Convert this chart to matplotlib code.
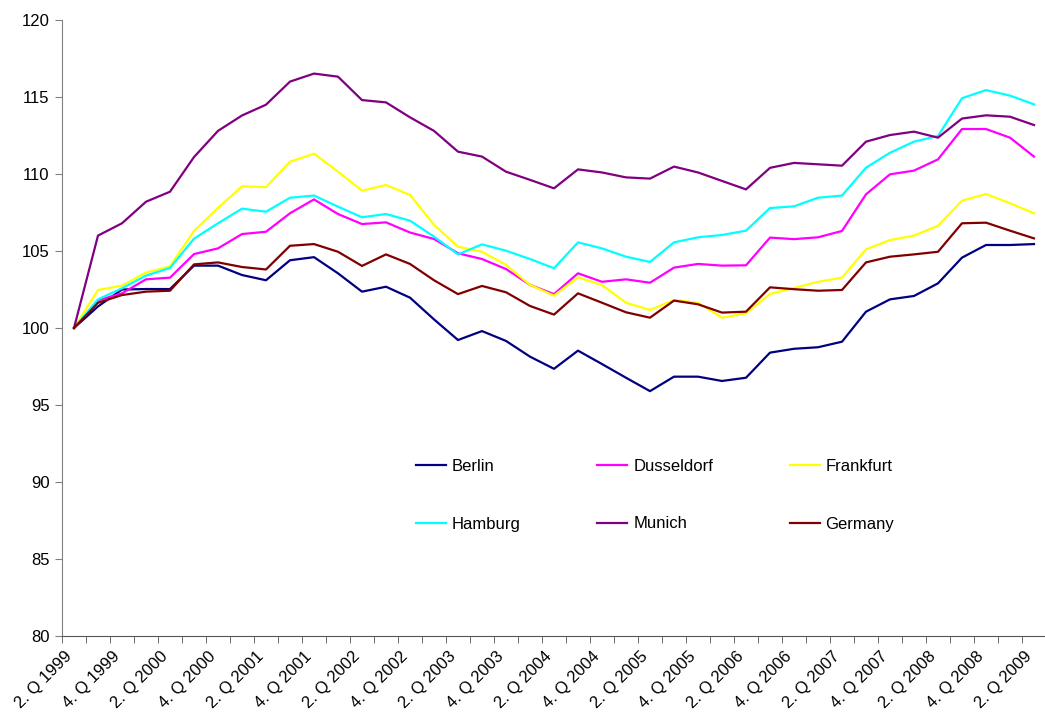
import matplotlib
matplotlib.use("Agg")
import matplotlib.pyplot as plt
import numpy as np

plt.rcParams['font.family'] = ['Liberation Sans', 'DejaVu Sans']

# Quarterly index, 2. Q 1999 = 100
quarters = []
for year in range(1999, 2010):
    for q in range(1, 5):
        quarters.append(f"{q}. Q {year}")
quarters = quarters[1:42]

berlin = [100, 101.4, 102.5, 102.53, 102.53, 104.05, 104.05, 103.44, 103.1, 104.4,
          104.6, 103.55, 102.36, 102.68, 101.97, 100.56, 99.22, 99.8, 99.16, 98.14,
          97.35, 98.53, 97.66, 96.77, 95.9, 96.84, 96.84, 96.56, 96.77, 98.4,
          98.65, 98.75, 99.11, 101.06, 101.86, 102.08, 102.9, 104.57, 105.39, 105.39,
          105.45]
dusseldorf = [100, 101.8, 102.25, 103.16, 103.27, 104.8, 105.17, 106.1, 106.25, 107.45,
              108.35, 107.4, 106.75, 106.86, 106.2, 105.78, 104.85, 104.48, 103.83, 102.8,
              102.2, 103.55, 103.0, 103.16, 102.94, 103.92, 104.16, 104.05, 104.07, 105.87,
              105.77, 105.89, 106.3, 108.68, 109.98, 110.22, 110.95, 112.92, 112.92, 112.36,
              111.13]
frankfurt = [100, 102.47, 102.75, 103.6, 104.0, 106.3, 107.8, 109.2, 109.15, 110.8,
             111.32, 110.15, 108.92, 109.29, 108.64, 106.7, 105.28, 104.95, 104.1, 102.8,
             102.1, 103.29, 102.79, 101.64, 101.17, 101.82, 101.64, 100.67, 100.95, 102.21,
             102.6, 103.0, 103.27, 105.11, 105.71, 106.0, 106.64, 108.27, 108.7, 108.1,
             107.45]
hamburg = [100, 101.86, 102.58, 103.4, 103.9, 105.8, 106.8, 107.75, 107.55, 108.46,
           108.6, 107.88, 107.19, 107.4, 106.97, 105.93, 104.78, 105.43, 105.02, 104.48,
           103.88, 105.56, 105.17, 104.63, 104.29, 105.56, 105.89, 106.04, 106.32, 107.79,
           107.9, 108.46, 108.6, 110.41, 111.38, 112.1, 112.47, 114.92, 115.45, 115.09,
           114.52]
munich = [100, 106.0, 106.8, 108.2, 108.85, 111.1, 112.8, 113.8, 114.5, 116.0,
          116.52, 116.32, 114.8, 114.65, 113.68, 112.8, 111.45, 111.13, 110.15, 109.62,
          109.07, 110.3, 110.1, 109.78, 109.7, 110.48, 110.1, 109.55, 109.0, 110.4,
          110.72, 110.63, 110.54, 112.1, 112.53, 112.75, 112.36, 113.6, 113.81, 113.72,
          113.18]
germany = [100, 101.64, 102.14, 102.36, 102.42, 104.13, 104.26, 103.96, 103.8, 105.34,
           105.45, 104.95, 104.03, 104.78, 104.16, 103.1, 102.2, 102.73, 102.32, 101.43,
           100.87, 102.25, 101.64, 101.02, 100.67, 101.78, 101.54, 101.0, 101.06, 102.64,
           102.52, 102.42, 102.47, 104.26, 104.63, 104.78, 104.95, 106.8, 106.84, 106.32,
           105.82]

series = [
    ("Berlin", berlin, "#000080"),
    ("Dusseldorf", dusseldorf, "#FF00FF"),
    ("Frankfurt", frankfurt, "#FFFF00"),
    ("Hamburg", hamburg, "#00FFFF"),
    ("Munich", munich, "#800080"),
    ("Germany", germany, "#800000"),
]

fig = plt.figure(figsize=(10.45, 7.18), dpi=100)
ax = fig.add_axes([62 / 1045, 1 - 636 / 718, 984 / 1045, 616 / 718])

x = np.arange(len(quarters))
lines = []
for name, vals, col in series:
    ln, = ax.plot(x, vals, color=col, lw=1.6, label=name)
    lines.append(ln)

ax.set_xlim(-0.5, len(quarters) - 0.5)
ax.set_ylim(80, 120)
ax.set_yticks(np.arange(80, 121, 5))

# category labels every second quarter (ending just left of the point),
# tick marks between categories
ax.set_xticks(x[::2] - 0.4)
ax.set_xticklabels(quarters[::2], rotation=45, ha='right', va='top',
                   rotation_mode='anchor', fontsize=12)
ax.set_xticks(np.arange(-0.5, len(quarters) - 0.5, 1), minor=True)
ax.tick_params(axis='x', which='major', length=0, pad=9)
ax.tick_params(axis='x', which='minor', length=5, color='#555555', direction='out')
ax.tick_params(axis='y', length=5, color='#808080', labelsize=12, pad=4)

for side in ('top', 'right'):
    ax.spines[side].set_visible(False)
ax.spines['left'].set_color('#808080')
ax.spines['bottom'].set_color('#555555')

# legend reads row by row: matplotlib fills columns first, so interleave
order = [0, 3, 1, 4, 2, 5]
ax.legend([lines[i] for i in order], [series[i][0] for i in order],
          loc='upper left', bbox_to_anchor=(339 / 984, 1 - 424 / 616), ncol=3,
          frameon=False, fontsize=12, handlelength=1.8, handletextpad=0.35,
          columnspacing=4.6, labelspacing=2.55)

fig.savefig("out.png", dpi=100)
